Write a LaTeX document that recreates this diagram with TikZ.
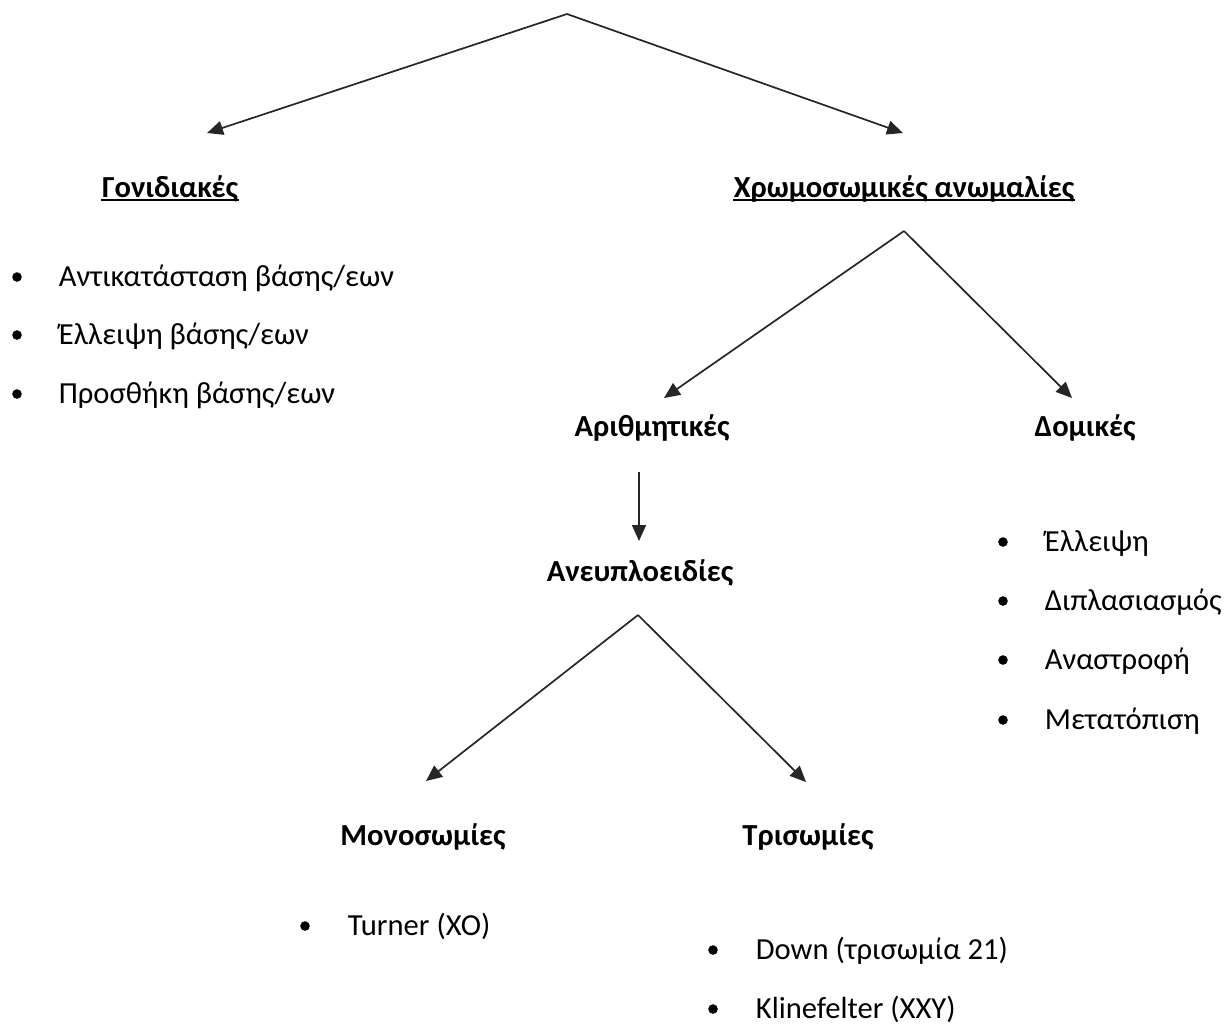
\documentclass[tikz,border=0pt]{standalone}
\usepackage{fontspec}
\setmainfont{Carlito}
\usetikzlibrary{arrows.meta}

\begin{document}
\begin{tikzpicture}[x=0.5pt,y=-0.5pt,line width=0.85pt,
  arr/.style={-{Triangle[length=8pt,width=7pt]},black!85},
  head/.style={anchor=base,inner sep=0pt,font=\fontsize{15.3}{18}\selectfont\bfseries},
  item/.style={anchor=base west,inner sep=0pt,font=\fontsize{15.3}{18}\selectfont}]
\useasboundingbox (0,0) rectangle (1224,1025);

\coordinate (top) at (567,14);
\coordinate (gonend) at (207,133);
\coordinate (chrend) at (903,133);
\coordinate (chrtop) at (904,231);
\coordinate (ariend) at (664,398);
\coordinate (domend) at (1072,398);
\coordinate (aribot) at (639,472);
\coordinate (aneend) at (639,541);
\coordinate (anetop) at (638,615);
\coordinate (monend) at (426,781);
\coordinate (triend) at (806,782);

\draw[arr] (top) -- (gonend);
\draw[arr] (top) -- (chrend);
\draw[arr] (chrtop) -- (ariend);
\draw[arr] (chrtop) -- (domend);
\draw[arr] (aribot) -- (aneend);
\draw[arr] (anetop) -- (monend);
\draw[arr] (anetop) -- (triend);

\node[head] (gon) at (170,197) {Γονιδιακές};
\node[head] (chr) at (904,197) {Χρωμοσωμικές ανωμαλίες};
\draw ([yshift=-1.5pt]gon.base west) -- ([yshift=-1.5pt]gon.base east);
\draw ([yshift=-1.5pt]chr.base west) -- ([yshift=-1.5pt]chr.base east);
\node[head] (ari) at (652,436) {Αριθμητικές};
\node[head] (dom) at (1085,436) {Δομικές};
\node[head] (ane) at (640,581) {Ανευπλοειδίες};
\node[head] (mon) at (423,845) {Μονοσωμίες};
\node[head] (tri) at (808,845) {Τρισωμίες};

\node[item] (gon1) at (58,286) {Αντικατάσταση βάσης/εων};
\node[item] (gon2) at (58,344) {Έλλειψη βάσης/εων};
\node[item] (gon3) at (58,403) {Προσθήκη βάσης/εων};

\node[item] (dom1) at (1044,551) {Έλλειψη};
\node[item] (dom2) at (1044,610) {Διπλασιασμός};
\node[item] (dom3) at (1044,669) {Αναστροφή};
\node[item] (dom4) at (1044,729) {Μετατόπιση};

\node[item] (mon1) at (347,935) {Turner (XO)};
\node[item] (tri1) at (755,959) {Down (τρισωμία 21)};
\node[item] (tri2) at (755,1018) {Klinefelter (XXY)};

\foreach \x/\y in {17/286,17/344,17/403,1003/551,1003/610,1003/669,1003/729,305/935,713/959,713/1018}
  \fill (\x,\y-9) circle (2.4pt);

\end{tikzpicture}
\end{document}
